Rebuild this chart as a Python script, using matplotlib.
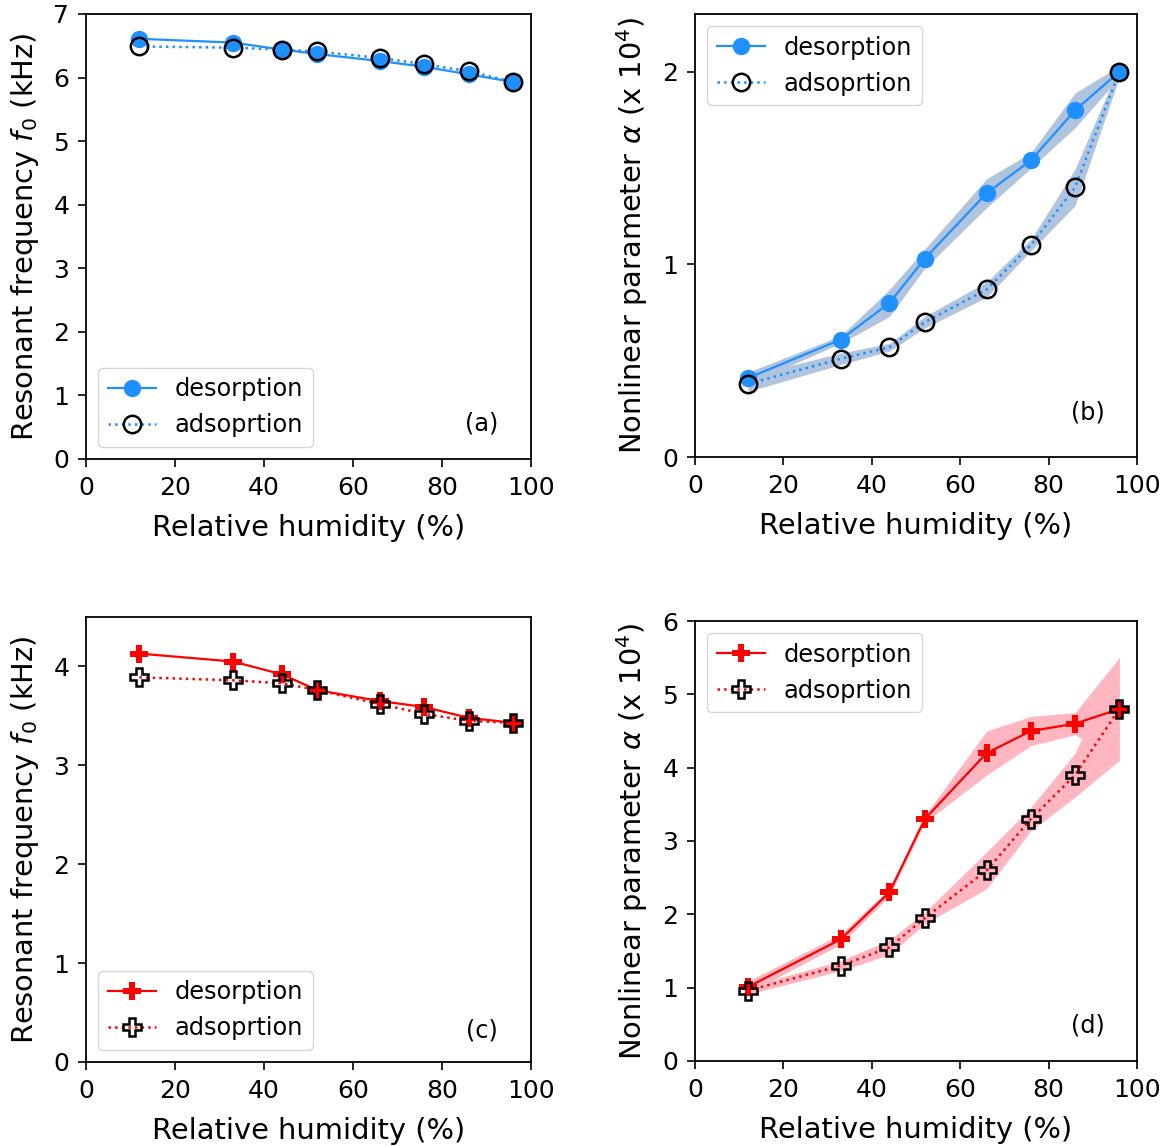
import numpy as np
import matplotlib
matplotlib.use("Agg")
import matplotlib.pyplot as plt

# relative humidity steps (%)
rh = [12, 33, 44, 52, 66, 76, 86, 96]

# (a) resonant frequency, sample 1 (kHz)
f0_des_1 = [6.61, 6.55, 6.44, 6.37, 6.26, 6.17, 6.05, 5.93]
f0_ads_1 = [6.49, 6.47, 6.44, 6.41, 6.31, 6.21, 6.10, 5.93]

# (b) nonlinear parameter, sample 1 (x 1e4)
alpha_des_1 = [0.41, 0.61, 0.80, 1.03, 1.37, 1.54, 1.80, 2.00]
alpha_des_1_err = [0.03, 0.02, 0.07, 0.05, 0.075, 0.04, 0.09, 0.03]
alpha_ads_1 = [0.38, 0.51, 0.57, 0.70, 0.87, 1.10, 1.40, 2.00]
alpha_ads_1_err = [0.04, 0.03, 0.02, 0.03, 0.04, 0.03, 0.095, 0.03]

# (c) resonant frequency, sample 2 (kHz)
f0_des_2 = [4.13, 4.05, 3.92, 3.76, 3.65, 3.59, 3.48, 3.43]
f0_ads_2 = [3.89, 3.86, 3.83, 3.76, 3.62, 3.52, 3.45, 3.43]

# (d) nonlinear parameter, sample 2 (x 1e4)
alpha_des_2 = [1.01, 1.66, 2.30, 3.30, 4.20, 4.50, 4.60, 4.80]
alpha_des_2_err = [0.08, 0.07, 0.05, 0.05, 0.30, 0.20, 0.15, 0.70]
alpha_ads_2 = [0.96, 1.30, 1.55, 1.95, 2.60, 3.30, 3.90, 4.80]
alpha_ads_2_err = [0.05, 0.07, 0.10, 0.08, 0.25, 0.16, 0.30, 0.70]

blue = "dodgerblue"
red = "red"
tick_fs = 18
label_fs = 20.8
leg_fs = 17.3

fig = plt.figure(figsize=(11.69, 11.46), dpi=100)
ax_a = fig.add_axes([0.0736, 0.5995, 0.3807, 0.3883])
ax_b = fig.add_axes([0.5945, 0.6012, 0.3781, 0.3866])
ax_c = fig.add_axes([0.0736, 0.0733, 0.3807, 0.3883])
ax_d = fig.add_axes([0.5945, 0.0742, 0.3781, 0.3839])


def draw(ax, des, ads, color, marker, des_err=None, ads_err=None, band=None):
    if des_err is not None:
        d = np.array(des); de = np.array(des_err)
        a = np.array(ads); ae = np.array(ads_err)
        ax.fill_between(rh, d - de, d + de, color=band, lw=0, zorder=1)
        ax.fill_between(rh, a - ae, a + ae, color=band, lw=0, zorder=1)
    ax.plot(rh, des, "-", color=color, marker=marker, ms=12.5, mec=color, mew=0,
            lw=1.6, label="desorption", zorder=3)
    ax.plot(rh, ads, ":", color=color, marker=marker, ms=12.5, mfc="none",
            mec="black", mew=1.8, lw=1.8, label="adsoprtion", zorder=4)
    ax.set_xlim(0, 100)
    ax.set_xticks([0, 20, 40, 60, 80, 100])
    ax.set_xlabel("Relative humidity (%)", fontsize=label_fs, labelpad=10)
    ax.tick_params(labelsize=tick_fs, width=1.2, length=6, pad=6)
    for s in ax.spines.values():
        s.set_linewidth(1.3)


draw(ax_a, f0_des_1, f0_ads_1, blue, "o")
ax_a.set_ylim(0, 7)
ax_a.set_yticks(range(0, 8))
ax_a.set_ylabel("Resonant frequency $f_0$ (kHz)", fontsize=label_fs, labelpad=9)
ax_a.legend(loc="lower left", fontsize=leg_fs, handlelength=2.0)
ax_a.text(0.89, 0.08, "(a)", transform=ax_a.transAxes, fontsize=leg_fs, ha="center", va="center")

draw(ax_b, alpha_des_1, alpha_ads_1, blue, "o", alpha_des_1_err, alpha_ads_1_err, "lightsteelblue")
ax_b.set_ylim(0, 2.3)
ax_b.set_yticks([0, 1, 2])
ax_b.set_ylabel(r"Nonlinear parameter $\alpha$ (x 10$^4$)", fontsize=label_fs, labelpad=9)
ax_b.legend(loc="upper left", fontsize=leg_fs, handlelength=2.0)
ax_b.text(0.89, 0.10, "(b)", transform=ax_b.transAxes, fontsize=leg_fs, ha="center", va="center")

draw(ax_c, f0_des_2, f0_ads_2, red, "P")
ax_c.set_ylim(0, 4.5)
ax_c.set_yticks(range(0, 5))
ax_c.set_ylabel("Resonant frequency $f_0$ (kHz)", fontsize=label_fs, labelpad=9)
ax_c.legend(loc="lower left", fontsize=leg_fs, handlelength=2.0)
ax_c.text(0.89, 0.07, "(c)", transform=ax_c.transAxes, fontsize=leg_fs, ha="center", va="center")

draw(ax_d, alpha_des_2, alpha_ads_2, red, "P", alpha_des_2_err, alpha_ads_2_err, "lightpink")
ax_d.set_ylim(0, 6)
ax_d.set_yticks(range(0, 7))
ax_d.set_ylabel(r"Nonlinear parameter $\alpha$ (x 10$^4$)", fontsize=label_fs, labelpad=9)
ax_d.legend(loc="upper left", fontsize=leg_fs, handlelength=2.0)
ax_d.text(0.89, 0.08, "(d)", transform=ax_d.transAxes, fontsize=leg_fs, ha="center", va="center")

fig.savefig("out.png", dpi=100)
